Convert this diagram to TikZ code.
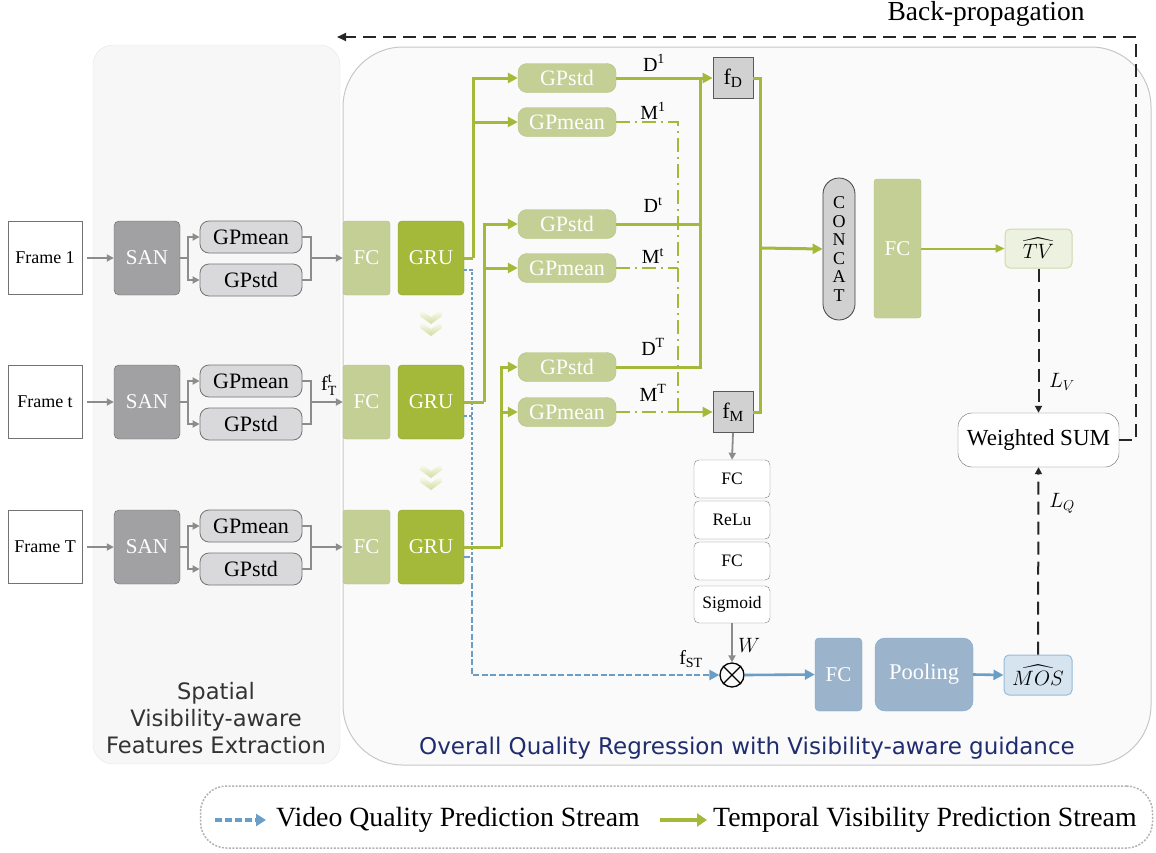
\documentclass[tikz,border=0pt]{standalone}
\usepackage{amsmath}
\usepackage{fontspec}
\setmainfont{Liberation Serif}
\newfontfamily\djv{DejaVu Sans}
\usetikzlibrary{arrows.meta,calc}
\newcommand\fsz[2]{\fontsize{#1}{#2}\selectfont}
\definecolor{lgreen}{HTML}{C4CF96}
\definecolor{lgreenb}{HTML}{B3C07A}
\definecolor{dgreen}{HTML}{A4B83A}
\definecolor{sangray}{HTML}{A1A1A4}
\definecolor{gpgray}{HTML}{D9D9DC}
\definecolor{bluel}{HTML}{6A9EC6}
\definecolor{bluebox}{HTML}{9BB4CB}
\definecolor{navy}{HTML}{1F2D6E}
\begin{document}
\begin{tikzpicture}[x=1pt,y=-1pt,
  box/.style={draw, inner sep=0pt, align=center},
  framebox/.style={box, draw=black!55, fill=white, minimum width=74pt, minimum height=73pt, font=\fsz{18}{20}},
  san/.style={box, draw=black!60, fill=sangray, rounded corners=5pt, minimum width=66pt, minimum height=74pt, text=white, font=\fsz{21}{24}},
  gpg/.style={box, draw=black!55, line width=0.8pt, fill=gpgray, rounded corners=9pt, minimum width=102pt, minimum height=32pt, font=\fsz{22}{24}},
  fcg/.style={box, draw=lgreenb, fill=lgreen, rounded corners=3pt, minimum width=47pt, minimum height=74pt, text=white, font=\fsz{21}{24}},
  gru/.style={box, draw=dgreen!85!black, fill=dgreen, rounded corners=4pt, minimum width=66pt, minimum height=74pt, text=white, font=\fsz{21}{24}},
  gpv/.style={box, draw=lgreenb, fill=lgreen, rounded corners=9pt, minimum width=98pt, minimum height=29pt, text=white, font=\fsz{22}{24}},
  fnode/.style={box, draw=black!65, line width=0.8pt, fill=black!18, minimum width=40pt, minimum height=41pt, font=\fsz{22}{24}},
  stackbox/.style={box, draw=black!50, fill=white, rounded corners=5pt, minimum width=76pt, minimum height=38pt, font=\fsz{17.5}{20}},
  lbl/.style={inner sep=0pt, font=\fsz{20}{24}},
  gline/.style={draw=dgreen, line width=3pt},
  garrow/.style={draw=dgreen, line width=3pt, -{Triangle[length=10pt,width=10pt]}},
  grayline/.style={draw=black!45, line width=1.8pt},
  grayarr/.style={draw=black!45, line width=1.8pt, -{Triangle[length=7pt,width=7pt]}},
  mline/.style={draw=dgreen, line width=2pt, dash pattern=on 14pt off 5pt on 2pt off 5pt},
  bdot/.style={draw=bluel, line width=1.6pt, dash pattern=on 3pt off 2pt},
  bdash/.style={draw=bluel, line width=2.4pt, dash pattern=on 6pt off 2.5pt},
  barrow/.style={draw=bluel, line width=2.6pt, -{Triangle[length=10pt,width=10pt]}},
  kdash/.style={draw=black!85, line width=2pt, dash pattern=on 13pt off 7pt},
  chev/.style={top color=white, bottom color=dgreen!50, draw=none}
]
\useasboundingbox (0,0) rectangle (1156,852);

% panels
\filldraw[fill=black!3, draw=black!10, rounded corners=20pt] (93,45) rectangle (340,764);
\filldraw[fill=black!2, draw=black!22, line width=1pt, rounded corners=60pt] (343,47) rectangle (1151,765);

% titles
\node[font=\djv\fsz{22.6}{27}, text=black!80, align=center] (t1) at (216,718) {Spatial\\Visibility-aware\\Features Extraction};
\node[font=\djv\fsz{23}{26}, text=navy] (t2) at (747,748) {Overall Quality Regression with Visibility-aware guidance};

% rows
\foreach \n/\y/\lab in {1/258/Frame 1, t/402/Frame t, T/547/Frame T}{
  \node[framebox] (fr\n) at (45,\y) {\lab};
  \node[san] (san\n) at (147,\y) {SAN};
  \node[gpg] (gpm\n) at (251,\y-21) {GPmean};
  \node[gpg] (gps\n) at (251,\y+22) {GPstd};
  \node[fcg] (fc\n) at (366.5,\y) {FC};
  \node[gru] (gru\n) at (431,\y) {GRU};
  \coordinate (sj\n) at (188,\y);
  \coordinate (mj\n) at (311,\y);
  \draw[grayarr] (fr\n.east) ++(5,0) -- (san\n.west);
  \draw[grayline] (san\n.east) -- (sj\n);
  \draw[grayarr] (sj\n) |- (gpm\n.west);
  \draw[grayarr] (sj\n) |- (gps\n.west);
  \draw[grayline] (gpm\n.east) -| (mj\n) |- (gps\n.east);
  \draw[grayarr] (mj\n) -- (fc\n.west);
}
\node[lbl] (ftt) at (329,385) {$\mathrm{f}^{\mathrm{t}}_{\mathrm{T}}$};

% chevrons
\foreach \yy in {309,321,463,475}{
  \shade[chev] (420,\yy) -- (431,\yy+8) -- (442,\yy) -- (442,\yy+7) -- (431,\yy+15) -- (420,\yy+7) -- cycle;
}

% green GP boxes
\node[gpv] (gsA) at (567,78) {GPstd};
\node[gpv] (gmA) at (567,122) {GPmean};
\node[gpv] (gsB) at (567,224) {GPstd};
\node[gpv] (gmB) at (567,268) {GPmean};
\node[gpv] (gsC) at (567,367) {GPstd};
\node[gpv] (gmC) at (567,412) {GPmean};

\node[fnode] (fD) at (733,78) {$\mathrm{f}_{\mathrm{D}}$};
\node[fnode] (fM) at (733,412) {$\mathrm{f}_{\mathrm{M}}$};

% blue stream (drawn first so green crosses on top)
\coordinate (bv1) at (472,270);
\coordinate (bvt) at (472,416);
\coordinate (bvT) at (472,557);
\draw[bdot] ([yshift=-12pt]gru1.east) -- (bv1) -- (bvT);
\draw[bdot] ([yshift=-14pt]grut.east) -- (bvt);
\draw[bdash] ([yshift=-10pt]gruT.east) -- (bvT);

% green from GRUs
\coordinate (j1) at (473,258);
\coordinate (j2) at (484,402);
\coordinate (j3) at (501,547);
\draw[gline] (gru1.east) -- (j1);
\draw[garrow] (j1) |- (gsA.west);
\draw[garrow] (j1) |- (gmA.west);
\draw[gline] (grut.east) -- (j2);
\draw[garrow] (j2) |- (gsB.west);
\draw[garrow] (j2) |- (gmB.west);
\draw[gline] (gruT.east) -- (j3);
\draw[garrow] (j3) |- (gsC.west);
\draw[garrow] (j3) |- (gmC.west);

% M lines
\coordinate (mv) at (678,412);
\draw[mline] (gmA.east) -| (mv);
\draw[mline] (gmB.east) -- (gmB.east -| mv);
\draw[mline] (gmC.east) -- (mv);
\draw[draw=dgreen, line width=2pt, -{Triangle[length=10pt,width=10pt]}] (mv) -- (fM.west);

% D lines
\coordinate (dv) at (700,78);
\draw[garrow] (gsA.east) -- (fD.west);
\draw[gline] (gsB.east) -| (dv);
\draw[gline] (gsC.east) -| (dv);

\node[lbl] (lD1) at (654,63) {$\mathrm{D}^{\mathrm{1}}$};
\node[lbl] (lM1) at (653,111) {$\mathrm{M}^{\mathrm{1}}$};
\node[lbl] (lDt) at (653,205) {$\mathrm{D}^{\mathrm{t}}$};
\node[lbl] (lMt) at (653,256) {$\mathrm{M}^{\mathrm{t}}$};
\node[lbl] (lDT) at (653,347) {$\mathrm{D}^{\mathrm{T}}$};
\node[lbl] (lMT) at (653,393) {$\mathrm{M}^{\mathrm{T}}$};

% concat and FC
\node[box, draw=black!75, line width=0.8pt, fill=black!18, rounded corners=16pt, minimum width=32pt, minimum height=142pt, font=\fsz{18}{18.5}] (cc) at (839,249) {C\\O\\N\\C\\A\\T};
\node[fcg, minimum height=139pt] (fcB) at (897.5,248.5) {FC};
\node[box, draw=lgreen!80, line width=1pt, fill=lgreen!30, rounded corners=5pt, minimum width=67pt, minimum height=39pt, font=\fsz{20}{24}] (tv) at (1038.5,248.5) {$\widehat{TV}$};

\coordinate (cj) at (760,248);
\draw[gline] (fD.east) -| (cj);
\draw[gline] (fM.east) -| (cj);
\draw[garrow] (cj) -- (cc.west);
\draw[draw=dgreen, line width=2pt, -{Triangle[length=9pt,width=8pt]}] (fcB.east) -- (tv.west);

% weighted sum & losses
\node[box, draw=black!60, fill=white, rounded corners=14pt, minimum width=161pt, minimum height=54pt, font=\fsz{23}{25}] (ws) at (1038.5,440) {Weighted SUM};
\node[box, draw=bluel!70, line width=1pt, fill=bluel!28, rounded corners=5pt, minimum width=68pt, minimum height=40pt, font=\fsz{20}{24}] (mos) at (1038,675) {$\widehat{MOS}$};
\draw[kdash, -{Triangle[length=7pt,width=7pt]}] (tv.south) -- (ws.north);
\draw[kdash, -{Triangle[length=7pt,width=7pt]}] (mos.north) -- (ws.south);
\node[lbl, font=\fsz{20}{24}] (lv) at (1062,382) {$L_V$};
\node[lbl, font=\fsz{20}{24}] (lq) at (1062,503) {$L_Q$};

% back-propagation
\coordinate (bpc) at (1136,37);
\coordinate (bpe) at (337,37);
\draw[kdash, -{Triangle[length=9pt,width=8pt]}] (ws.east) -| (bpc) -- (bpe);
\node[font=\fsz{27.5}{30}] (bpl) at (986,14) {Back-propagation};

% FC stack
\node[stackbox] (s1) at (732,479) {FC};
\node[stackbox] (s2) at (732,520) {ReLu};
\node[stackbox] (s3) at (732,561) {FC};
\node[stackbox, minimum height=37pt] (s4) at (732,604.5) {Sigmoid};
\draw[grayarr] (fM.south) -- (s1.north);

% otimes
\node[circle, draw=black, line width=1.3pt, minimum size=24pt, inner sep=0pt] (ot) at (732,675) {};
\draw[black, line width=1.3pt] (ot.north west) -- (ot.south east);
\draw[black, line width=1.3pt] (ot.north east) -- (ot.south west);
\draw[grayarr] (s4.south) -- (ot.north);
\node[lbl] (lw) at (749,645) {$W$};
\node[lbl] (lfst) at (691,659) {$\mathrm{f}_{\mathrm{ST}}$};

\draw[bdash, -{Triangle[length=10pt,width=10pt]}] (bvT) |- (ot.west);

% blue boxes
\node[box, draw=bluel!90, fill=bluebox, rounded corners=4pt, minimum width=47pt, minimum height=73pt, text=white, font=\fsz{21}{24}] (fcb) at (838.5,674.5) {FC};
\node[box, draw=bluel!90, fill=bluebox, rounded corners=10pt, minimum width=98pt, minimum height=73pt, text=white, font=\fsz{22.5}{24}] (pool) at (924,674.5) {Pooling};
\draw[barrow] (ot.east) -- (fcb.west);
\draw[barrow] (pool.east) -- (mos.west);

% legend
\node[draw=black!30, line width=1.5pt, dash pattern=on 2pt off 1.5pt, rounded corners=26pt, minimum width=952pt, minimum height=62pt, inner sep=0pt] (leg) at (676.5,817) {};
\coordinate (la1) at (215,820);
\coordinate (la2) at (266,820);
\coordinate (lb1) at (660,820);
\coordinate (lb2) at (707,820);
\draw[draw=bluel, line width=4pt, dash pattern=on 7pt off 3pt, -{Triangle[length=10pt,width=12pt]}] (la1) -- (la2);
\draw[draw=dgreen, line width=4.5pt, -{Triangle[length=10pt,width=13pt]}] (lb1) -- (lb2);
\node[anchor=west, inner sep=0pt, font=\fsz{27.8}{30}] (lt1) at (276,820) {Video Quality Prediction Stream};
\node[anchor=west, inner sep=0pt, font=\fsz{27.8}{30}] (lt2) at (713,820) {Temporal Visibility Prediction Stream};
\end{tikzpicture}
\end{document}
